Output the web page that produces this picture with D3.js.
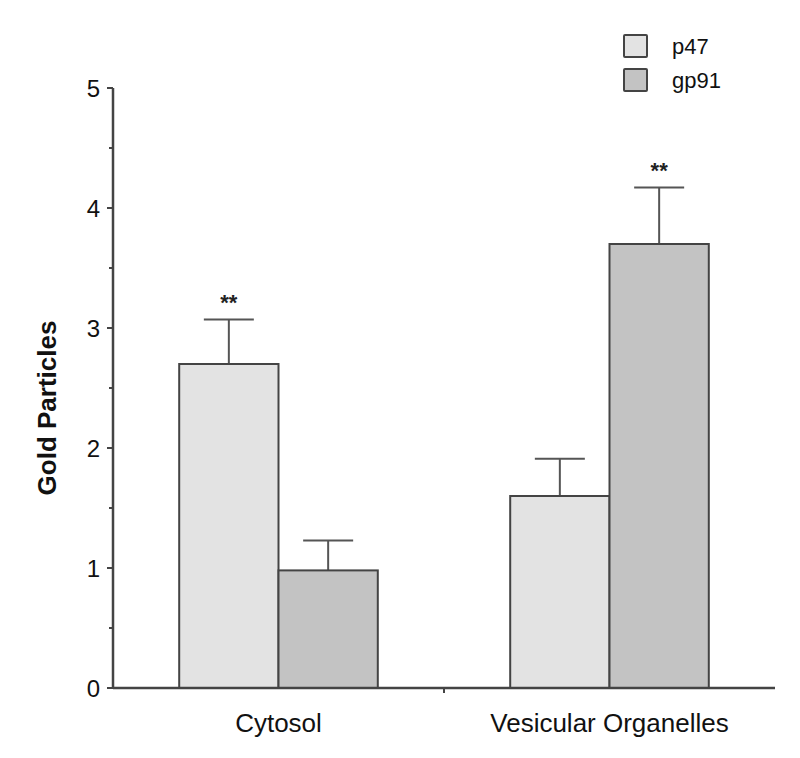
<!DOCTYPE html>
<html><head><meta charset="utf-8">
<script src="https://cdn.jsdelivr.net/npm/d3@7"></script>
<style>body{margin:0;background:#fff}text{font-family:"Liberation Sans",Arial,sans-serif}</style>
</head><body><svg id="c" width="800" height="758"></svg>
<script>
const categories = ["Cytosol", "Vesicular Organelles"];
const seriesNames = ["p47", "gp91"];
const p47 = [2.70, 1.60];
const gp91 = [0.98, 3.70];
const p47Err = [0.37, 0.31];
const gp91Err = [0.25, 0.47];
const significance = [["**", ""], ["", "**"]]; // [category][series]
const yTicks = [0, 1, 2, 3, 4, 5];
const colors = ["#e3e3e3", "#c3c3c3"];

const svg = d3.select("#c");
const x0 = 113, x1 = 775, yTop = 88, yBot = 688;
const y = d3.scaleLinear().domain([0, 5]).range([yBot, yTop]);
const xc = d3.scaleBand().domain(categories).range([x0, x1]).paddingInner(0.4).paddingOuter(0.2);
const xs = d3.scaleBand().domain(seriesNames).range([0, xc.bandwidth()]);
const vals = [p47, gp91], errs = [p47Err, gp91Err];

const data = [];
categories.forEach((c, i) => seriesNames.forEach((s, j) => data.push({c, s, i, j, v: vals[j][i], e: errs[j][i], sig: significance[i][j]})));

// error bars
const g = svg.append("g");
data.forEach(d => {
  const cx = xc(d.c) + xs(d.s) + xs.bandwidth() / 2;
  g.append("line").attr("x1", cx).attr("x2", cx).attr("y1", y(d.v)).attr("y2", y(d.v + d.e)).attr("stroke", "#555").attr("stroke-width", 2);
  g.append("line").attr("x1", cx - 25).attr("x2", cx + 25).attr("y1", y(d.v + d.e)).attr("y2", y(d.v + d.e)).attr("stroke", "#555").attr("stroke-width", 2);
  if (d.sig) g.append("text").attr("x", cx).attr("y", y(d.v + d.e) - 10).attr("text-anchor", "middle").attr("font-size", 22).attr("font-weight", "bold").attr("fill", "#222").text(d.sig);
});
// bars
g.selectAll("rect.bar").data(data).join("rect").attr("class", "bar")
  .attr("x", d => xc(d.c) + xs(d.s)).attr("width", xs.bandwidth())
  .attr("y", d => y(d.v)).attr("height", d => yBot - y(d.v))
  .attr("fill", d => colors[d.j]).attr("stroke", "#444").attr("stroke-width", 2);

// y axis
const ya = svg.append("g").attr("transform", `translate(${x0},0)`);
ya.append("line").attr("x1", 0).attr("x2", 0).attr("y1", yTop).attr("y2", yBot).attr("stroke", "#444").attr("stroke-width", 2.5);
d3.range(0, 5.01, 0.5).forEach(t => {
  ya.append("line").attr("x1", 0).attr("x2", Number.isInteger(t) ? -6 : -4).attr("y1", y(t)).attr("y2", y(t)).attr("stroke", "#444").attr("stroke-width", 2);
});
ya.selectAll("text.tk").data(yTicks).join("text").attr("class", "tk")
  .attr("x", -13).attr("y", d => y(d)).attr("dy", "0.36em").attr("text-anchor", "end").attr("font-size", 24).attr("fill", "#111").text(d => d);
svg.append("text").attr("transform", `translate(56,408) rotate(-90)`).attr("text-anchor", "middle")
  .attr("font-size", 26).attr("font-weight", "bold").attr("fill", "#111").text("Gold Particles");

// x axis
svg.append("line").attr("x1", x0).attr("x2", x1).attr("y1", yBot).attr("y2", yBot).attr("stroke", "#444").attr("stroke-width", 2.5);
svg.append("line").attr("x1", (x0 + x1) / 2).attr("x2", (x0 + x1) / 2).attr("y1", yBot).attr("y2", yBot + 5).attr("stroke", "#444").attr("stroke-width", 2);
svg.selectAll("text.cat").data(categories).join("text").attr("class", "cat")
  .attr("x", d => xc(d) + xc.bandwidth() / 2).attr("y", 732).attr("text-anchor", "middle").attr("font-size", 26).attr("fill", "#111").text(d => d);

// legend
const lg = svg.append("g");
seriesNames.forEach((s, j) => {
  lg.append("rect").attr("x", 624).attr("y", 35 + j * 34).attr("width", 23).attr("height", 22).attr("rx", 1)
    .attr("fill", colors[j]).attr("stroke", "#444").attr("stroke-width", 2);
  lg.append("text").attr("x", 672).attr("y", 46 + j * 34).attr("dy", "0.36em").attr("font-size", 22).attr("fill", "#111").text(s);
});
</script></body></html>
